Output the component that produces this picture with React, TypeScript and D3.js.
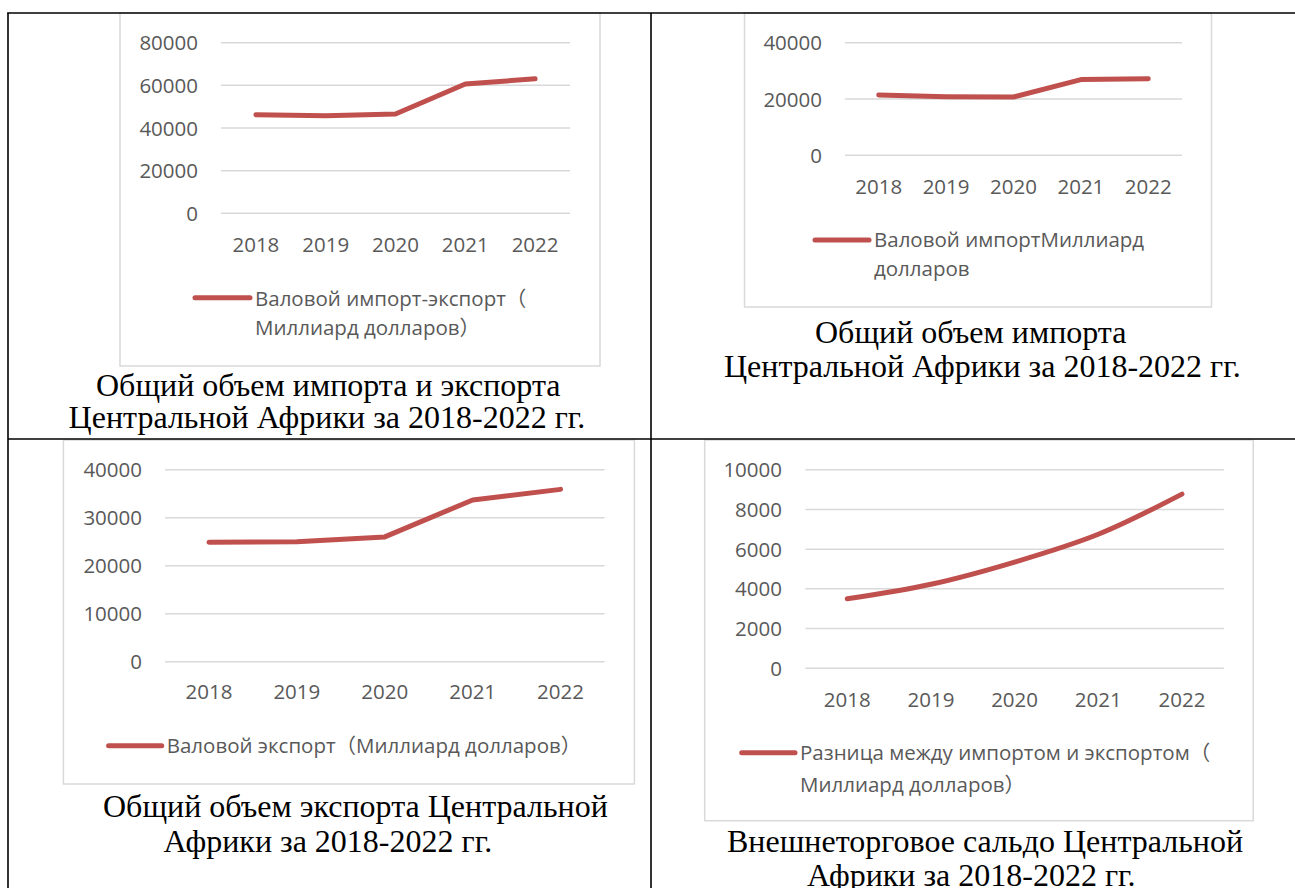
import React from "react";
import * as d3 from "d3";

const years = ["2018", "2019", "2020", "2021", "2022"];
const totalTrade = [46200, 45800, 46600, 60600, 63100];
const imports = [21400, 20800, 20700, 26900, 27200];
const exportsVals = [24900, 25000, 26000, 33700, 35900];
const balance = [3500, 4230, 5350, 6750, 8770];

const ticksTotal = [0, 20000, 40000, 60000, 80000];
const ticksImport = [0, 20000, 40000];
const ticksExport = [0, 10000, 20000, 30000, 40000];
const ticksBalance = [0, 2000, 4000, 6000, 8000, 10000];

const legendTotal = ["Валовой импорт-экспорт（", "Миллиард долларов）"];
const legendImport = ["Валовой импортМиллиард", "долларов"];
const legendExport = ["Валовой экспорт（Миллиард долларов）"];
const legendBalance = ["Разница между импортом и экспортом（", "Миллиард долларов）"];

const captionTotal = ["Общий объем импорта и экспорта", "Центральной Африки за 2018-2022 гг."];
const captionImport = ["Общий объем импорта", "Центральной Африки за 2018-2022 гг."];
const captionExport = ["Общий объем экспорта Центральной", "Африки за 2018-2022 гг."];
const captionBalance = ["Внешнеторговое сальдо Центральной", "Африки за 2018-2022 гг."];

const RED = "#C0504D";
const GRID = "#D9D9D9";
const TXT = "#595959";
const SANS = "'Open Sans', 'Noto Sans', 'Noto Sans CJK SC', sans-serif";
const SERIF = "'Liberation Serif', 'Times New Roman', serif";

type Layout = {
  box: [number, number, number, number];
  px: [number, number];
  py: [number, number]; // [bottom px for 0, top px for max]
  tickRight: number;
  xLabelY: number;
  legLine: [number, number, number];
  legTextX: number;
  legBase: number[];
  capX: number[];
  capBase: number[];
  smooth?: boolean;
};

function Panel({ values, ticks, legend, caption, L }: { values: number[]; ticks: number[]; legend: string[]; caption: string[]; L: Layout }) {
  const x = d3.scaleBand<string>().domain(years).range(L.px).padding(0);
  const y = d3.scaleLinear().domain([0, ticks[ticks.length - 1]]).range(L.py);
  const line = d3
    .line<number>()
    .x((_, i) => (x(years[i]) as number) + x.bandwidth() / 2)
    .y((v) => y(v))
    .curve(L.smooth ? d3.curveCatmullRom.alpha(0.5) : d3.curveLinear);
  const [bx, by, bw, bh] = L.box;
  return (
    <g>
      <rect x={bx} y={by} width={bw} height={bh} fill="#fff" stroke={GRID} strokeWidth={1.5} />
      {ticks.map((t) => (
        <g key={t}>
          <line x1={L.px[0]} x2={L.px[1]} y1={y(t)} y2={y(t)} stroke={GRID} strokeWidth={1.5} />
          <text x={L.tickRight} y={y(t) + 7.5} textAnchor="end" fontFamily={SANS} fontSize={20.5} fill={TXT}>
            {t}
          </text>
        </g>
      ))}
      {years.map((yr) => (
        <text key={yr} x={(x(yr) as number) + x.bandwidth() / 2} y={L.xLabelY} textAnchor="middle" fontFamily={SANS} fontSize={20.5} fill={TXT}>
          {yr}
        </text>
      ))}
      <path d={line(values) || ""} fill="none" stroke={RED} strokeWidth={5} strokeLinejoin="round" strokeLinecap="round" />
      <line x1={L.legLine[0]} x2={L.legLine[1]} y1={L.legLine[2]} y2={L.legLine[2]} stroke={RED} strokeWidth={5} strokeLinecap="round" />
      {legend.map((s, i) => (
        <text key={i} x={L.legTextX} y={L.legBase[i]} fontFamily={SANS} fontSize={20.5} fill={TXT}>
          {s}
        </text>
      ))}
      {caption.map((s, i) => (
        <text key={i} x={L.capX[i]} y={L.capBase[i]} fontFamily={SERIF} fontSize={32} fill="#000">
          {s}
        </text>
      ))}
    </g>
  );
}

const L1: Layout = {
  box: [120, 13, 480, 353],
  px: [221, 570],
  py: [213.3, 42.7],
  tickRight: 198,
  xLabelY: 252,
  legLine: [195, 250, 297.7],
  legTextX: 255,
  legBase: [306, 335],
  capX: [96, 68.6],
  capBase: [396, 428],
};
const L2: Layout = {
  box: [744.5, 13, 467, 294],
  px: [845, 1182],
  py: [155.3, 42.7],
  tickRight: 822,
  xLabelY: 194,
  legLine: [815, 869, 240],
  legTextX: 874,
  legBase: [247, 276],
  capX: [815, 724],
  capBase: [343, 377],
};
const L3: Layout = {
  box: [63.4, 440, 571, 344],
  px: [165, 604.5],
  py: [661.7, 469.7],
  tickRight: 142,
  xLabelY: 699,
  legLine: [108.6, 161.7, 745.7],
  legTextX: 166.7,
  legBase: [752.5],
  capX: [103, 163.6],
  capBase: [817, 852],
};
const L4: Layout = {
  box: [704.7, 440, 548.5, 380.7],
  px: [805.4, 1223.8],
  py: [668.3, 469.7],
  tickRight: 782,
  xLabelY: 707,
  legLine: [741.7, 795, 752.7],
  legTextX: 800,
  legBase: [760, 792],
  capX: [727, 807],
  capBase: [852, 886],
  smooth: true,
};

export default function App() {
  return (
    <svg width={1295} height={888} style={{ position: "absolute", left: 0, top: 0, background: "#fff" }}>
      <rect x={0} y={0} width={1295} height={888} fill="#fff" />
      <Panel values={totalTrade} ticks={ticksTotal} legend={legendTotal} caption={captionTotal} L={L1} />
      <Panel values={imports} ticks={ticksImport} legend={legendImport} caption={captionImport} L={L2} />
      <Panel values={exportsVals} ticks={ticksExport} legend={legendExport} caption={captionExport} L={L3} />
      <Panel values={balance} ticks={ticksBalance} legend={legendBalance} caption={captionBalance} L={L4} />
      <g stroke="#000" strokeWidth={1.6}>
        <line x1={7.2} x2={1295} y1={13} y2={13} />
        <line x1={8} x2={8} y1={13} y2={888} />
        <line x1={651} x2={651} y1={13} y2={888} />
        <line x1={8} x2={1295} y1={439} y2={439} />
      </g>
    </svg>
  );
}
